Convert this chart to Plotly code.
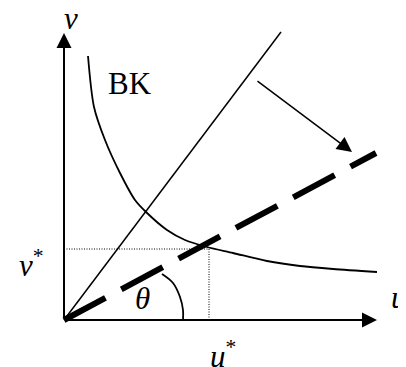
import plotly.graph_objects as go

# BK curve (origin at the axes corner)
bk_u = [24, 30, 41, 56, 71, 82, 103, 121, 143, 169, 203, 236, 269, 313]
bk_v = [264, 213, 180, 147, 120, 108, 90, 80, 73, 67, 59, 54, 51, 48]

# solid ray and dashed ray
ray_u = [0, 217]
ray_v = [0, 288]
dash_u = [0, 312]
dash_v = [0, 167]

# theta arc
arc_u = [98, 109, 116, 119, 119]
arc_v = [46, 37, 23, 10, 0]

# equilibrium point (u*, v*)
star_u = 145
star_v = 71

# axis ends and the shift arrow
x_axis_end = 313
y_axis_end = 287
shift_from = (192, 240)
shift_to = (288, 168)

font = "Liberation Serif"

fig = go.Figure()
fig.add_trace(go.Scatter(x=bk_u, y=bk_v, mode='lines', line=dict(color='black', width=1.8, shape='spline', smoothing=0.8)))
fig.add_trace(go.Scatter(x=ray_u, y=ray_v, mode='lines', line=dict(color='black', width=1.5)))
fig.add_trace(go.Scatter(x=dash_u, y=dash_v, mode='lines', line=dict(color='black', width=6, dash='47px,18px')))
fig.add_trace(go.Scatter(x=arc_u, y=arc_v, mode='lines', line=dict(color='black', width=1.8, shape='spline')))
fig.add_trace(go.Scatter(x=[0, star_u, star_u], y=[star_v, star_v, 0], mode='lines',
                         line=dict(color='black', width=1, dash='1px,1.5px')))

arrows = [
    ((0, 0), (0, y_axis_end), 2, 1.5),
    ((0, 0), (x_axis_end, 0), 2, 1.5),
    (shift_from, shift_to, 1.5, 2),
]
for (a, b, w, s) in arrows:
    fig.add_annotation(x=b[0], y=b[1], ax=a[0], ay=a[1], xref='x', yref='y', axref='x', ayref='y',
                       text='', showarrow=True, arrowhead=2, arrowwidth=w, arrowsize=s,
                       arrowcolor='black', standoff=0)

labels = [
    ('<i>v</i>', 7, 302, 'center'),
    ('BK', 66, 237, 'center'),
    ('<i>v</i><sup>*</sup>', -47, 57, 'left'),
    ('<i>u</i><sup>*</sup>', 144, -34, 'left'),
    ('<i>θ</i>', 78, 22, 'center'),
    ('<i>u</i>', 325, 23, 'left'),
]
for (t, x, y, anc) in labels:
    fig.add_annotation(x=x, y=y, xref='x', yref='y', text=t, showarrow=False,
                       xanchor=anc, yanchor='middle', font=dict(family=font, size=31, color='black'))

# page has an 8px body margin, so the ranges are shifted to put the corner at (64, 320)
fig.update_layout(
    width=406, height=367,
    margin=dict(l=0, r=0, t=0, b=0),
    plot_bgcolor='white', paper_bgcolor='white',
    showlegend=False,
    xaxis=dict(range=[-56, 350], visible=False, fixedrange=True),
    yaxis=dict(range=[-55, 312], visible=False, fixedrange=True),
)

fig.write_html("out.html")
